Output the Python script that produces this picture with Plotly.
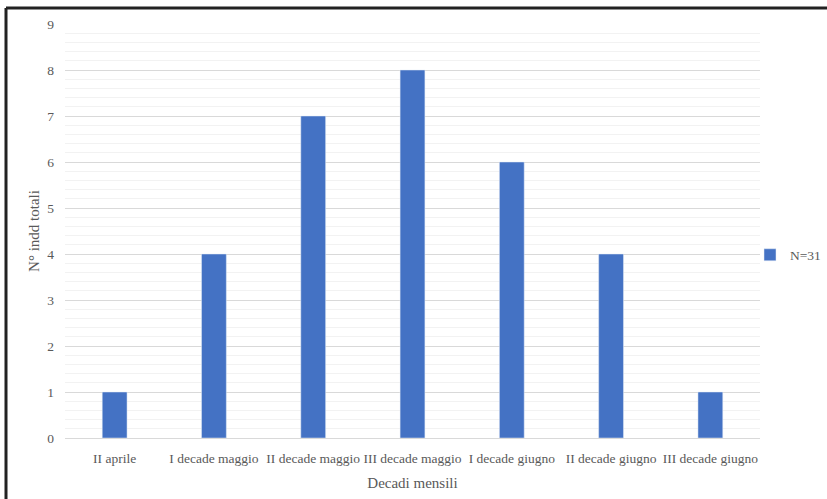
import plotly.graph_objects as go

categories = ["II aprile", "I decade maggio", "II decade maggio", "III decade maggio",
              "I decade giugno", "II decade giugno", "III decade giugno"]
counts = [1, 4, 7, 8, 6, 4, 1]
series_name = "N=31"

W, H = 827, 499
L, R, T, B = 65, 67, 24, 61
pw, ph = W - L - R, H - T - B

def px_x(p):
    return (p - L) / pw

def px_y(p):
    return (H - B - p) / ph

font = "Liberation Serif, Times New Roman, serif"
grey = "#595959"

fig = go.Figure(go.Bar(
    x=categories, y=counts, name=series_name,
    marker=dict(color="#4472C4"),
    width=0.25,
))

fig.update_layout(
    width=W, height=H,
    margin=dict(l=L, r=R, t=T, b=B, autoexpand=False),
    plot_bgcolor="white", paper_bgcolor="white",
    font=dict(family=font, size=13.5, color=grey),
    showlegend=True,
    legend=dict(x=px_x(750), y=px_y(255), xanchor="left", yanchor="middle",
                font=dict(family=font, size=13.5, color=grey),
                bgcolor="rgba(0,0,0,0)", itemwidth=30),
    xaxis=dict(
        showgrid=False, showline=True, linecolor="#d9d9d9", linewidth=1,
        ticks="", ticklabelstandoff=8,
        tickfont=dict(family=font, size=13.5, color=grey),
        title=dict(text="Decadi mensili", font=dict(family=font, size=15, color=grey), standoff=12),
    ),
    yaxis=dict(
        range=[0, 9], dtick=1, tick0=0,
        showgrid=True, gridcolor="#d9d9d9", gridwidth=1,
        zeroline=False, showline=False, ticks="", ticklabelstandoff=10,
        tickfont=dict(family=font, size=13.5, color=grey),
        minor=dict(dtick=0.2, showgrid=True, gridcolor="#f2f2f2", gridwidth=1),
        title=dict(text="N° indd totali", font=dict(family=font, size=15, color=grey), standoff=4),
    ),
    shapes=[
        dict(type="line", xref="paper", yref="paper",
             x0=px_x(6), x1=px_x(900), y0=px_y(8), y1=px_y(8),
             line=dict(color="#222222", width=3)),
        dict(type="line", xref="paper", yref="paper",
             x0=px_x(6), x1=px_x(6), y0=px_y(8), y1=px_y(600),
             line=dict(color="#222222", width=3)),
    ],
)

fig.write_html("out.html")
